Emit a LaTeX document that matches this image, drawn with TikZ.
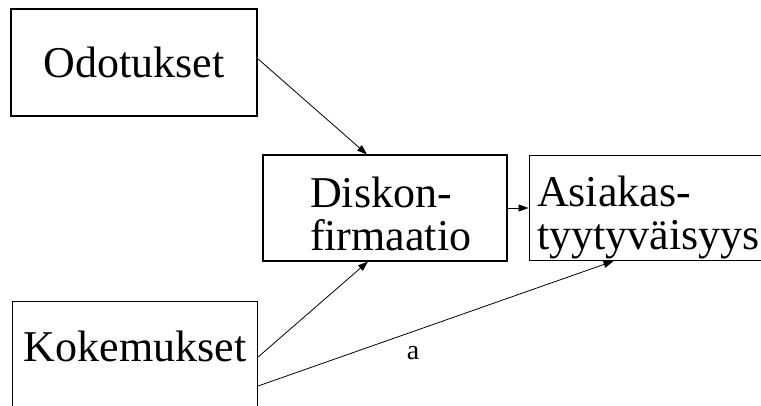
\documentclass[tikz,border=0pt]{standalone}
\usepackage{fontspec}
\setmainfont{Liberation Serif}
\usetikzlibrary{arrows.meta,positioning}

\begin{document}
\begin{tikzpicture}[x=1pt, y=1pt,
    box/.style={rectangle, draw, line width=1.1pt, inner sep=0pt, font=\fontsize{44}{43}\selectfont},
    arr/.style={-{Triangle[length=10pt,width=7pt]}, line width=0.8pt}]
    \useasboundingbox (0,0) rectangle (761,405);

    % Boxes
    \node (odo) [box, minimum width=246pt, minimum height=107pt] at (134,342.5) {Odotukset};
    \node (dis) [box, minimum width=244pt, minimum height=106pt, text width=150pt, align=left] at (385,197) {\rule{0pt}{42pt}Diskon-\\firmaatio};
    \node (asi) [box, minimum height=105pt, inner xsep=8pt, text width=224pt, align=left, right=21pt of dis] {\rule{0pt}{50pt}Asiakas-\\tyytyv\"aisyys};
    \node (kok) [box, anchor=north west, minimum width=245pt, text height=60pt, text depth=52pt] at (12,104) {Kokemukset};

    % Label
    \node (lbla) [font=\fontsize{28}{30}\selectfont] at (413,52) {a};

    % Connections
    \draw[arr] ([yshift=4pt]odo.east) -- ([xshift=-18pt]dis.north);
    \draw[arr] (dis.east) -- (asi.west);
    \draw[arr] ([yshift=-56pt]kok.north east) -- ([xshift=-17pt]dis.south);
    \draw[arr] ([yshift=-85pt]kok.north east) -- ([xshift=85pt]asi.south west);
\end{tikzpicture}
\end{document}
